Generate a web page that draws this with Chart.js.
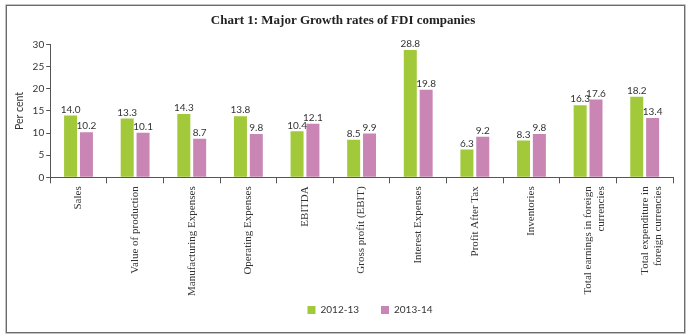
<!DOCTYPE html>
<html>
<head>
<meta charset="utf-8">
<script src="https://cdn.jsdelivr.net/npm/chart.js@4"></script>
<style>
  html, body { margin: 0; padding: 0; background: #ffffff; }
  #quadro {
    position: absolute;
    left: 6px;
    top: 5px;
    width: 677px;
    height: 326px;
    border: 1px solid #6b6b6b;
    box-shadow: 0 0 0 0.6px #9a9a9a;
  }
  #grafico { display: block; }
</style>
</head>
<body>
<div id="quadro">
  <canvas id="grafico" width="677" height="326"></canvas>
</div>
<script>
// dados do grafico
var categorias = [
  "Sales",
  "Value of production",
  "Manufacturing Expenses",
  "Operating Expenses",
  "EBITDA",
  "Gross profit (EBIT)",
  "Interest Expenses",
  "Profit After Tax",
  "Inventories",
  ["Total earnings in foreign", "currencies"],
  ["Total expenditure in", "foreign currencies"]
];
var serie2012 = [14.0, 13.3, 14.3, 13.8, 10.4, 8.5, 28.8, 6.3, 8.3, 16.3, 18.2];
var serie2013 = [10.2, 10.1, 8.7, 9.8, 12.1, 9.9, 19.8, 9.2, 9.8, 17.6, 13.4];
var nomesSeries = ["2012-13", "2013-14"];
var ticksY = [0, 5, 10, 15, 20, 25, 30];

var FONTE = "'Liberation Serif', 'DejaVu Serif', serif";
var FONTE_NUM = "Lato, 'Open Sans', sans-serif";
var COR_VERDE = "#a2c93a";
var COR_ROSA = "#c986b5";
var COR_EIXO = "#555555";
var COR_TEXTO = "#333333";

// ---------- PLUGINS ----------

// escreve o valor em cima de cada barra
var rotulosValores = {
  id: "rotulosValores",
  afterDatasetsDraw: function (chart) {
    var ctx = chart.ctx;
    ctx.save();
    ctx.font = "10px " + FONTE_NUM;
    ctx.fillStyle = COR_TEXTO;
    ctx.textAlign = "center";
    ctx.textBaseline = "bottom";
    chart.data.datasets.forEach(function (ds, i) {
      var meta = chart.getDatasetMeta(i);
      meta.data.forEach(function (barra, j) {
        ctx.fillText(ds.data[j].toFixed(1), barra.x, barra.y - 1);
      });
    });
    ctx.restore();
  }
};

// a legenda fica fora do lugar padrao: mais para a direita e mais para cima
var deslocaLegenda = {
  id: "deslocaLegenda",
  afterLayout: function (chart) {
    if (chart.legend) {
      chart.legend.left += 27;
      chart.legend.right += 27;
      chart.legend.top -= 16;
      chart.legend.bottom -= 16;
    }
  }
};

var ctx = document.getElementById("grafico").getContext("2d");

var grafico = new Chart(ctx, {
  type: "bar",
  data: {
    labels: categorias,
    datasets: [
      {
        label: nomesSeries[0],
        data: serie2012,
        backgroundColor: COR_VERDE,
        categoryPercentage: 0.56,
        barPercentage: 0.82
      },
      {
        label: nomesSeries[1],
        data: serie2013,
        backgroundColor: COR_ROSA,
        categoryPercentage: 0.56,
        barPercentage: 0.82
      }
    ]
  },
  options: {
    responsive: false,
    animation: false,
    layout: {
      padding: { left: 6, right: 11, top: 0, bottom: -9 }
    },
    plugins: {
      title: {
        display: true,
        text: "Chart 1: Major Growth rates of FDI companies",
        color: "#222222",
        font: { family: FONTE, size: 13, weight: "bold" },
        padding: { top: 7, bottom: 16 }
      },
      legend: {
        position: "bottom",
        labels: {
          boxWidth: 8,
          boxHeight: 8,
          padding: 22,
          color: COR_TEXTO,
          font: { family: FONTE_NUM, size: 10 }
        }
      },
      tooltip: { enabled: false }
    },
    scales: {
      x: {
        grid: {
          display: true,
          drawOnChartArea: false,
          drawTicks: true,
          tickLength: 6,
          color: COR_EIXO,
          offset: true
        },
        border: { display: true, color: COR_EIXO, width: 1 },
        ticks: {
          minRotation: 90,
          maxRotation: 90,
          autoSkip: false,
          padding: 3,
          color: COR_TEXTO,
          font: { family: FONTE, size: 11 }
        }
      },
      y: {
        min: 0,
        max: 30,
        afterBuildTicks: function (escala) {
          escala.ticks = ticksY.map(function (v) { return { value: v }; });
        },
        grid: {
          display: true,
          drawOnChartArea: false,
          drawTicks: true,
          tickLength: 4,
          color: COR_EIXO
        },
        border: { display: true, color: COR_EIXO, width: 1 },
        ticks: {
          padding: 2,
          color: COR_TEXTO,
          font: { family: FONTE_NUM, size: 10 }
        },
        title: {
          display: true,
          text: "Per cent",
          color: COR_TEXTO,
          font: { family: FONTE_NUM, size: 10.5 },
          padding: { top: 0, bottom: 5 }
        }
      }
    }
  },
  plugins: [rotulosValores, deslocaLegenda]
});
</script>
</body>
</html>
